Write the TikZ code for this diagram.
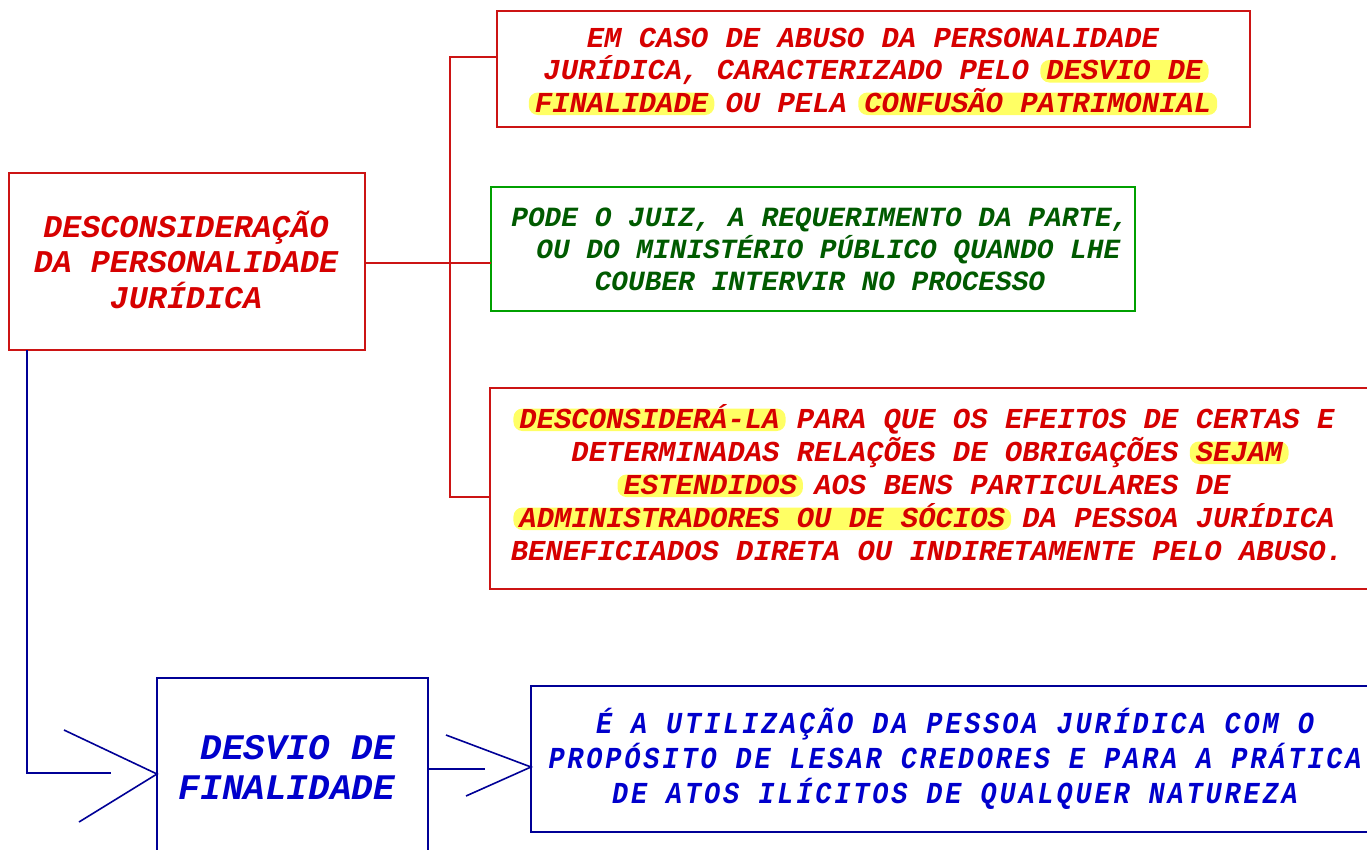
\documentclass[tikz,border=0pt]{standalone}
\usepackage{fontspec}
\newfontfamily\cour{Liberation Mono}
\newfontfamily\courn{Liberation Mono}[FakeStretch=0.88,LetterSpace=9.5]
\definecolor{tred}{RGB}{214,0,0}
\definecolor{bred}{RGB}{204,20,20}
\definecolor{tgreen}{RGB}{0,90,0}
\definecolor{bgreen}{RGB}{0,160,0}
\definecolor{tblue}{RGB}{0,0,204}
\definecolor{bblue}{RGB}{0,0,150}
\definecolor{hly}{RGB}{255,255,100}
\newsavebox\hlbox
\newlength\hlw
\newcommand\hl[1]{\sbox\hlbox{#1}\setlength\hlw{\wd\hlbox}\rlap{\hspace*{-6pt}\tikz[baseline=0pt]\fill[hly,rounded corners=9pt](-6pt,-3pt) rectangle (\hlw+6pt,19.5pt);}\usebox\hlbox}
\begin{document}
\begin{tikzpicture}[x=1pt,y=-1pt,
  redbox/.style={draw=bred,line width=1.5pt,inner sep=0pt,outer sep=0pt},
  greenbox/.style={draw=bgreen,line width=1.5pt,inner sep=0pt,outer sep=0pt},
  bluebox/.style={draw=bblue,line width=1.5pt,inner sep=0pt,outer sep=0pt},
  redline/.style={draw=bred,line width=1.5pt},
  blueline/.style={draw=bblue,line width=1.6pt},
  txt/.style={anchor=base,align=center,inner sep=0pt}]
\useasboundingbox (0,0) rectangle (1367,849);
\clip (0,0) rectangle (1367,849);
% boxes
\node[redbox,minimum width=356pt,minimum height=177pt] (b1) at (187,261.5) {};
\node[redbox,minimum width=753pt,minimum height=116pt] (b2) at (873.5,69) {};
\node[greenbox,minimum width=644pt,minimum height=124pt] (b3) at (813,249) {};
\node[redbox,minimum width=885pt,minimum height=201pt] (b4) at (932.5,488.5) {};
\node[bluebox,minimum width=271pt,minimum height=184pt] (b5) at (292.5,770) {};
\node[bluebox,minimum width=844pt,minimum height=146pt] (b6) at (953,759) {};
% red connectors
\coordinate (s1) at (450,57);
\coordinate (s4) at (450,497);
\draw[redline] (b2.west |- s1) -- (s1) -- (s4) -- (b4.west |- s4);
\draw[redline] (b1.east |- 0,263) -- (b3.west |- 0,263);
% blue connectors
\coordinate (c1) at (27,773);
\coordinate (c2) at (111,773);
\draw[blueline] (b1.south -| c1) -- (c1) -- (c2);
\coordinate (t1) at (b5.west |- 0,774);
\draw[blueline] (t1) ++(-93,-44) -- (t1) -- ++(-78,48);
\coordinate (c3) at (485,769);
\draw[blueline] (b5.east |- c3) -- (c3);
\coordinate (t2) at (b6.west |- 0,767);
\draw[blueline] (t2) ++(-85,-32) -- (t2) -- ++(-65,29);
% texts (anchor base = baseline of the last line)
\node[txt,text=tred,font=\cour\bfseries\itshape\fontsize{31.7}{35.5}\selectfont] (x1) at (186,308)
  {DESCONSIDERAÇÃO\\DA PERSONALIDADE\\JURÍDICA};
\node[txt,text=tred,font=\cour\bfseries\itshape\fontsize{28.9}{32.5}\selectfont] (x2) at (873,112)
  {EM CASO DE ABUSO DA PERSONALIDADE\\JURÍDICA, CARACTERIZADO PELO \hl{DESVIO DE}\\\hl{FINALIDADE} OU PELA \hl{CONFUSÃO PATRIMONIAL}};
\node[txt,text=tgreen,font=\cour\bfseries\itshape\fontsize{27.8}{32}\selectfont] (x3) at (820,290)
  {PODE O JUIZ, A REQUERIMENTO DA PARTE,\\~OU DO MINISTÉRIO PÚBLICO QUANDO LHE\\COUBER INTERVIR NO PROCESSO};
\node[txt,text=tred,font=\cour\bfseries\itshape\fontsize{28.9}{33}\selectfont] (x4) at (927,560)
  {\hl{DESCONSIDERÁ-LA} PARA QUE OS EFEITOS DE CERTAS E\\DETERMINADAS RELAÇÕES DE OBRIGAÇÕES \hl{SEJAM}\\\hl{ESTENDIDOS} AOS BENS PARTICULARES DE\\\hl{ADMINISTRADORES OU DE SÓCIOS} DA PESSOA JURÍDICA\\BENEFICIADOS DIRETA OU INDIRETAMENTE PELO ABUSO.};
\node[txt,text=tblue,font=\cour\bfseries\itshape\fontsize{36}{40}\selectfont] (x5) at (287,799)
  {~DESVIO DE\\FINALIDADE};
\node[txt,text=tblue,font=\courn\bfseries\itshape\fontsize{30.5}{35}\selectfont] (x6) at (955,803)
  {É A UTILIZAÇÃO DA PESSOA JURÍDICA COM O\\PROPÓSITO DE LESAR CREDORES E PARA A PRÁTICA\\DE ATOS ILÍCITOS DE QUALQUER NATUREZA};
\end{tikzpicture}
\end{document}
